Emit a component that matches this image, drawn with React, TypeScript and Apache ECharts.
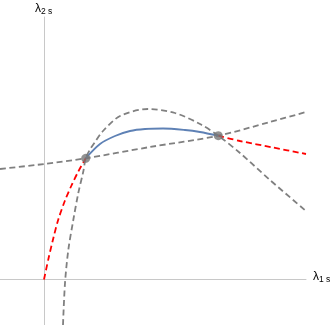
import React, { useEffect, useRef } from "react";
import * as echarts from "echarts";

// data units: x = (px - 44)/100, y = (279.5 - py)/100
const straightLine: number[][] = [
  [-0.44, 1.105], [0, 1.155], [0.417, 1.212], [1.06, 1.325], [1.743, 1.438], [2.26, 1.575], [2.62, 1.675],
];
const humpCurve: number[][] = [
  [0.19, -0.455], [0.21, -0.035], [0.243, 0.295], [0.293, 0.595], [0.343, 0.865], [0.393, 1.08],
  [0.417, 1.212], [0.46, 1.30], [0.51, 1.375], [0.59, 1.485], [0.76, 1.635], [1.04, 1.705], [1.31, 1.665],
  [1.56, 1.555], [1.743, 1.438], [1.96, 1.265], [2.26, 0.995], [2.62, 0.685],
];
const blueCurve: number[][] = [
  [0.417, 1.212], [0.56, 1.355], [0.71, 1.435], [0.86, 1.485], [1.01, 1.505], [1.19, 1.51],
  [1.41, 1.495], [1.56, 1.475], [1.743, 1.438],
];
const redLeft: number[][] = [
  [0, 0], [0.045, 0.21], [0.095, 0.42], [0.143, 0.60], [0.21, 0.79], [0.277, 0.945],
  [0.343, 1.08], [0.417, 1.212],
];
const redRight: number[][] = [
  [1.743, 1.438], [1.96, 1.385], [2.29, 1.32], [2.62, 1.255],
];
const crossPoints: number[][] = [
  [0.417, 1.212], [1.743, 1.438],
];

export default function App() {
  const ref = useRef<HTMLDivElement>(null);
  useEffect(() => {
    if (!ref.current) return;
    const chart = echarts.init(ref.current, null, { renderer: "svg" });
    const gray = "#808080";
    const dash = { type: [6, 3.5] as any, width: 1.8 };
    const font = "Liberation Sans";
    const rich = {
      l: { fontSize: 12, color: "#777777", fontFamily: font },
      sub: { fontSize: 8.5, color: "#777777", fontFamily: font, verticalAlign: "bottom", padding: [5, 0, 0, 0] },
    };
    const common = { smooth: 0.3, showSymbol: false };
    chart.setOption({
      animation: false,
      grid: { left: 0, right: 26, top: 17, bottom: 0 },
      xAxis: {
        type: "value", min: -0.44, max: 2.62,
        axisLine: { onZero: true, lineStyle: { color: "#c8c8c8", width: 1 } },
        axisTick: { show: false }, axisLabel: { show: false }, splitLine: { show: false },
      },
      yAxis: {
        type: "value", min: -0.455, max: 2.625,
        axisLine: { onZero: true, lineStyle: { color: "#c8c8c8", width: 1 } },
        axisTick: { show: false }, axisLabel: { show: false }, splitLine: { show: false },
      },
      graphic: [
        {
          type: "text", x: 35, y: 1,
          style: { text: "{l|λ}{sub|2 s}", rich } as any,
        },
        {
          type: "text", x: 313, y: 269,
          style: { text: "{l|λ}{sub|1 s}", rich } as any,
        },
      ],
      series: [
        { type: "line", data: straightLine, ...common, lineStyle: { ...dash, color: gray } },
        { type: "line", data: humpCurve, ...common, lineStyle: { ...dash, color: gray } },
        { type: "line", data: redLeft, ...common, lineStyle: { ...dash, color: "#ff0000" } },
        { type: "line", data: redRight, ...common, lineStyle: { ...dash, color: "#ff0000" } },
        { type: "line", data: blueCurve, ...common, lineStyle: { width: 1.8, color: "#5e81b5" } },
        { type: "scatter", data: crossPoints, symbolSize: 9, itemStyle: { color: "#777777" }, z: 5 },
      ],
    });
    return () => chart.dispose();
  }, []);
  return <div ref={ref} style={{ position: "fixed", left: 0, top: 0, width: 332, height: 325 }} />;
}
